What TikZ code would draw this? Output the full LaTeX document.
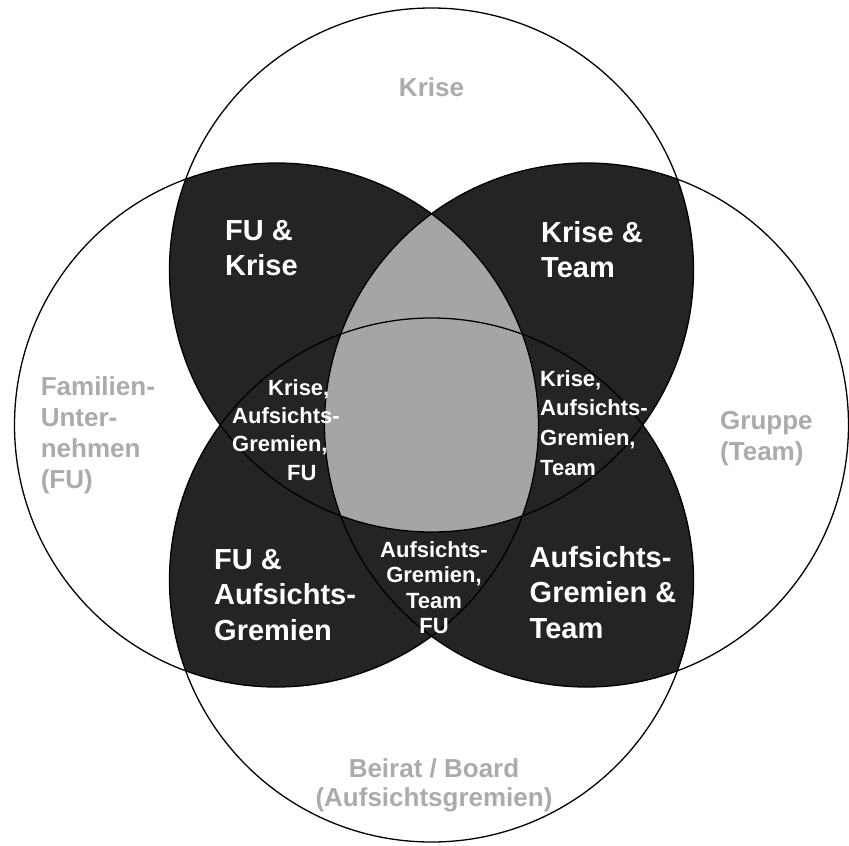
\documentclass[tikz,border=0pt]{standalone}
\usepackage{fontspec}
\setmainfont{Liberation Sans}
\definecolor{darkfill}{HTML}{242424}
\definecolor{midfill}{HTML}{A5A5A5}
\definecolor{settext}{HTML}{ABABAB}
\begin{document}
\begin{tikzpicture}[x=1pt,y=-1pt,
  ring/.style={draw=black, line width=1.3pt},
  biglbl/.style={inner sep=0pt, text=white, align=left, anchor=north west,
    font=\fontsize{29}{35.5}\selectfont\bfseries},
  midlbl/.style={inner sep=0pt, text=white, anchor=north west,
    font=\fontsize{22}{28.3}\selectfont\bfseries},
  setlbl/.style={inner sep=0pt, text=settext, anchor=north west, align=left,
    font=\fontsize{26}{31}\selectfont\bfseries}]
\useasboundingbox (0,0) rectangle (849,846);
\fill[white] (0,0) rectangle (849,846);

% circle centres: Krise (top), FU (left), Team (right), Board (bottom)
\coordinate (cT) at (431.5,270);
\coordinate (cB) at (431.5,580);
\coordinate (cL) at (276.5,425);
\coordinate (cR) at (586.5,425);

% pairwise overlaps of neighbouring circles
\begin{scope}\clip (cT) circle (262pt); \fill[darkfill] (cL) circle (262pt);\end{scope}
\begin{scope}\clip (cT) circle (262pt); \fill[darkfill] (cR) circle (262pt);\end{scope}
\begin{scope}\clip (cB) circle (262pt); \fill[darkfill] (cL) circle (262pt);\end{scope}
\begin{scope}\clip (cB) circle (262pt); \fill[darkfill] (cR) circle (262pt);\end{scope}
% FU, Team and Krise together
\begin{scope}
  \clip (cL) circle (262pt);
  \clip (cR) circle (262pt);
  \fill[midfill] (cT) circle (262pt);
\end{scope}

\foreach \c in {cT,cL,cR,cB} \draw[ring] (\c) circle (262pt);

% set names
\node[setlbl, anchor=base, align=center] (sKrise) at (431.5,96) {Krise};
\node[setlbl] (sFU) at (40.6,376) {Familien-\\Unter-\\nehmen\\(FU)};
\node[setlbl] (sTeam) at (720,411.5) {Gruppe\\(Team)};
\node[setlbl, anchor=north, align=center, font=\fontsize{26}{29}\selectfont\bfseries]
  (sBoard) at (434,758) {Beirat / Board\\(Aufsichtsgremien)};

% two-set overlaps
\node[biglbl] (oFUK) at (225,220) {FU \&\\Krise};
\node[biglbl] (oKT) at (541,221) {Krise \&\\Team};
\node[biglbl] (oFUA) at (214,549) {FU \&\\Aufsichts-\\Gremien};
\node[biglbl] (oAT) at (529.5,546) {Aufsichts-\\Gremien \&\\Team};

% three-set overlaps
\node[midlbl, align=left] (tKAF) at (232,379)
  {\hspace*{36pt}Krise,\\Aufsichts-\\Gremien,\\\hspace*{55pt}FU};
\node[midlbl, align=left, font=\fontsize{22}{29.7}\selectfont\bfseries] (tKAT) at (540,370)
  {Krise,\\Aufsichts-\\Gremien,\\Team};
\node[midlbl, anchor=north, align=center, font=\fontsize{22}{25.6}\selectfont\bfseries]
  (tATF) at (434,541) {Aufsichts-\\Gremien,\\Team\\FU};
\end{tikzpicture}
\end{document}
